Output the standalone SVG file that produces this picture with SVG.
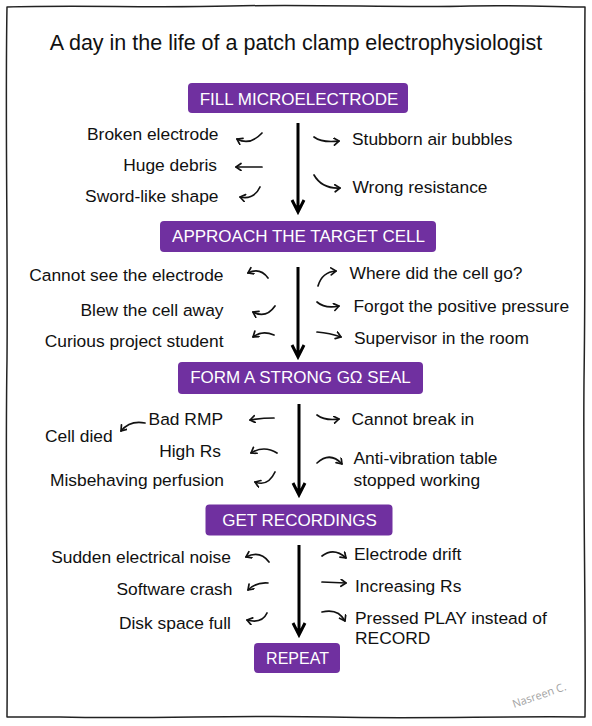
<svg xmlns="http://www.w3.org/2000/svg" width="592" height="726" viewBox="0 0 592 726">
<defs>
<style>
text{font-family:"Liberation Sans",Arial,sans-serif;fill:#111;}
.title{font-size:21.5px;text-anchor:middle;}
.it{font-size:17.4px;}
.l{text-anchor:end;}
.box rect{fill:#7030a0;}
.box text{font-size:17px;fill:#fff;text-anchor:middle;}
.main{stroke:#000;stroke-width:3;fill:none;stroke-linejoin:miter;}
.sm{stroke:#111;stroke-width:1.7;fill:none;stroke-linecap:round;}
.sig{font-family:"Open Sans",sans-serif;font-size:11px;fill:#a3a3a3;}
</style>
<marker id="ah" markerUnits="userSpaceOnUse" markerWidth="10" markerHeight="10" refX="6" refY="4" orient="auto">
<path d="M1,0.5 L6,4 L1,7.5" fill="none" stroke="#111" stroke-width="1.7" stroke-linecap="round" stroke-linejoin="round"/>
</marker>
</defs>
<rect width="592" height="726" fill="#fff"/>
<path d="M7,7 C80,5 150,8 230,6 C320,4 400,8 470,6 C520,5 560,7 585,7 C584,120 586,250 584,380 C583,500 586,620 585,717 C500,716 420,719 330,717 C240,715 150,719 60,717 L7,717 C8,600 5,480 7,360 C8,240 5,120 7,7 Z" fill="none" stroke="#222" stroke-width="1.5" stroke-linejoin="round"/>
<text class="title" x="296" y="50">A day in the life of a patch clamp electrophysiologist</text>
<g id="node-fill" class="box"><rect x="188" y="83" width="220" height="30" rx="4"/><text x="299" y="105">FILL MICROELECTRODE</text></g>
<g id="node-approach" class="box"><rect x="160" y="221" width="276" height="31" rx="4"/><text x="298.5" y="242">APPROACH THE TARGET CELL</text></g>
<g id="node-seal" class="box"><rect x="178" y="362" width="245" height="32" rx="4"/><text x="300.5" y="383">FORM A STRONG GΩ SEAL</text></g>
<g id="node-record" class="box"><rect x="205.5" y="504.5" width="187" height="31" rx="4"/><text x="299.5" y="526">GET RECORDINGS</text></g>
<g id="node-repeat" class="box"><rect x="254" y="643" width="86" height="30" rx="4"/><text x="297.5" y="663.5" style="font-size:16px">REPEAT</text></g>
<g id="items1" class="it">
<text class="l" x="218.5" y="140">Broken electrode</text>
<text class="l" x="217" y="170.5">Huge debris</text>
<text class="l" x="218.5" y="201.5">Sword-like shape</text>
<text x="352" y="145">Stubborn air bubbles</text>
<text x="352.5" y="192.5">Wrong resistance</text>
</g>
<g id="items2" class="it">
<text class="l" x="223.5" y="281">Cannot see the electrode</text>
<text class="l" x="223.5" y="315.5">Blew the cell away</text>
<text class="l" x="223.5" y="346.5">Curious project student</text>
<text x="349.5" y="278.5">Where did the cell go?</text>
<text x="353.5" y="311.5">Forgot the positive pressure</text>
<text x="354" y="343.5">Supervisor in the room</text>
</g>
<g id="items3" class="it">
<text class="l" x="223" y="424.5">Bad RMP</text>
<text x="45" y="441.5">Cell died</text>
<text class="l" x="221" y="456.5">High Rs</text>
<text class="l" x="224" y="485.5">Misbehaving perfusion</text>
<text x="351.5" y="424.5">Cannot break in</text>
<text x="353.5" y="463.5">Anti-vibration table</text>
<text x="353.5" y="485.5">stopped working</text>
</g>
<g id="items4" class="it">
<text class="l" x="231" y="562.5">Sudden electrical noise</text>
<text class="l" x="232.5" y="595">Software crash</text>
<text class="l" x="231" y="628.5">Disk space full</text>
<text x="354" y="559.5">Electrode drift</text>
<text x="355" y="591.5">Increasing Rs</text>
<text x="355" y="623.5">Pressed PLAY instead of</text>
<text x="355" y="644">RECORD</text>
</g>
<g id="connectors">
<path class="main" d="M298,123 L298,210 M292,200 L298,212 L304,200"/>
<path class="main" d="M298,267 L298,355 M292,345 L298,357 L304,345"/>
<path class="main" d="M299,404 L299,493 M293,483 L299,495 L305,483"/>
<path class="main" d="M299,545 L299,633 M293,623 L299,635 L305,623"/>
<g class="sm" marker-end="url(#ah)">
<path d="M262,133 Q250,146 237,139"/>
<path d="M262,167 L236,167"/>
<path d="M260,187 Q254,200 240,197"/>
<path d="M314,137 Q322,143 339,141"/>
<path d="M314,175 Q322,189 340,188"/>
<path d="M268,278 Q260,267 248,273"/>
<path d="M275,306 Q266,319 253,312"/>
<path d="M274,335 Q262,330 253,337"/>
<path d="M318,286 Q322,272 336,271"/>
<path d="M317,302 Q325,309 339,306"/>
<path d="M317,332 Q330,333 341,337"/>
<path d="M274,418 Q262,418 250,420"/>
<path d="M277,453 Q264,445 251,453"/>
<path d="M275,472 Q268,487 255,482"/>
<path d="M317,415 Q325,421 339,419"/>
<path d="M317,463 Q330,451 342,464"/>
<path d="M145,423 Q130,420 121,431"/>
<path d="M269,562 Q260,550 246,557"/>
<path d="M268,583 Q256,582 248,590"/>
<path d="M267,613 Q262,624 247,620"/>
<path d="M322,556 Q334,547 346,558"/>
<path d="M322,582 L346,583"/>
<path d="M322,612 Q338,608 345,621"/>
</g>
</g>
<text class="sig" x="514" y="708" transform="rotate(-19 514 708)">Nasreen C.</text>
</svg>
